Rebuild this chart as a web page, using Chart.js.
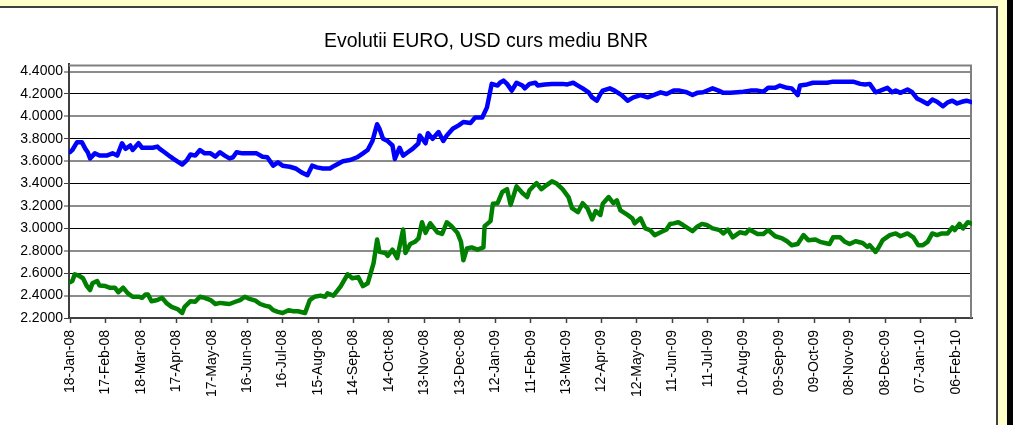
<!DOCTYPE html>
<html>
<head>
<meta charset="utf-8">
<script src="https://cdn.jsdelivr.net/npm/chart.js@4.4.0/dist/chart.umd.min.js"></script>
<style>
  html, body { margin: 0; padding: 0; }
  body { width: 1019px; height: 425px; background: #FFFFCC; position: relative; overflow: hidden; }
  #panel { position: absolute; left: 0; top: 6px; width: 996px; height: 417px; background: #fff;
           border-top: 2px solid #404040; border-right: 2px solid #404040; }
  #edge { position: absolute; left: 1007px; top: 0; width: 6px; height: 425px; background: #000; }
  #strip { position: absolute; left: 1013px; top: 0; width: 6px; height: 425px; background: #fff; }
  canvas { display: block; }
</style>
</head>
<body>
<div id="panel"><canvas id="rates" width="996" height="417"></canvas></div>
<div id="edge"></div>
<div id="strip"></div>
<script>
// x axis = days since 18-Jan-08, one label every 30 days
const TICK_DAYS = 30;
const dateLabels = ['18-Jan-08', '17-Feb-08', '18-Mar-08', '17-Apr-08', '17-May-08', '16-Jun-08',
  '16-Jul-08', '15-Aug-08', '14-Sep-08', '14-Oct-08', '13-Nov-08', '13-Dec-08', '12-Jan-09',
  '11-Feb-09', '13-Mar-09', '12-Apr-09', '12-May-09', '11-Jun-09', '11-Jul-09', '10-Aug-09',
  '09-Sep-09', '09-Oct-09', '08-Nov-09', '08-Dec-09', '07-Jan-10', '06-Feb-10'];
const yTicks = [2.2, 2.4, 2.6, 2.8, 3.0, 3.2, 3.4, 3.6, 3.8, 4.0, 4.2, 4.4];

// EURO (blue)
const eurDays = [0, 2, 6, 10, 13, 15, 17, 21, 25, 31, 36, 40, 44, 47, 51, 53, 58, 61, 66, 70, 74, 76, 80, 85, 87,
  95, 99, 102, 106, 110, 114, 119, 123, 127, 131, 135, 138, 141, 146, 152, 158, 163, 167, 172, 176, 180, 186,
  191, 196, 201, 205, 209, 214, 220, 224, 231, 237, 243, 248, 252, 256, 260, 262, 265, 269, 273, 275, 279, 282,
  286, 290, 295, 296, 301, 303, 307, 312, 316, 319, 324, 329, 333, 339, 343, 349, 353, 357, 362, 364, 367, 370,
  374, 378, 383, 385, 389, 394, 396, 402, 408, 412, 417, 421, 426, 430, 434, 439, 442, 446, 449, 451, 457, 461,
  467, 472, 477, 483, 489, 494, 500, 505, 511, 516, 522, 527, 531, 536, 544, 549, 553, 559, 565, 570, 576, 582,
  587, 591, 597, 601, 607, 611, 616, 618, 624, 629, 635, 641, 646, 652, 658, 663, 669, 673, 677, 682, 686, 692,
  696, 699, 703, 709, 713, 717, 721, 726, 730, 734, 739, 743, 747, 751, 755, 759, 764];
const eurRates = [3.68, 3.70, 3.77, 3.77, 3.71, 3.68, 3.625, 3.67, 3.65, 3.65, 3.67, 3.65, 3.76, 3.71, 3.74, 3.70,
  3.76, 3.72, 3.72, 3.72, 3.73, 3.71, 3.68, 3.64, 3.625, 3.57, 3.61, 3.66, 3.65, 3.70, 3.67, 3.67, 3.64, 3.68,
  3.65, 3.625, 3.635, 3.68, 3.67, 3.67, 3.67, 3.64, 3.635, 3.56, 3.59, 3.56, 3.55, 3.535, 3.50, 3.475, 3.56,
  3.545, 3.535, 3.535, 3.56, 3.60, 3.61, 3.635, 3.67, 3.70, 3.78, 3.93, 3.89, 3.80, 3.78, 3.74, 3.62, 3.72, 3.65,
  3.68, 3.71, 3.76, 3.83, 3.76, 3.85, 3.80, 3.86, 3.78, 3.83, 3.89, 3.92, 3.95, 3.94, 3.99, 3.99, 4.08, 4.29,
  4.275, 4.30, 4.32, 4.29, 4.23, 4.30, 4.275, 4.25, 4.29, 4.30, 4.275, 4.285, 4.29, 4.29, 4.29, 4.285, 4.30,
  4.275, 4.25, 4.215, 4.17, 4.14, 4.20, 4.23, 4.25, 4.23, 4.19, 4.14, 4.17, 4.19, 4.17, 4.19, 4.215, 4.20, 4.23,
  4.23, 4.215, 4.19, 4.21, 4.215, 4.25, 4.23, 4.21, 4.21, 4.215, 4.22, 4.23, 4.23, 4.22, 4.255, 4.255, 4.275,
  4.255, 4.25, 4.19, 4.275, 4.285, 4.30, 4.30, 4.30, 4.31, 4.31, 4.31, 4.31, 4.29, 4.285, 4.29, 4.215, 4.23,
  4.255, 4.215, 4.23, 4.21, 4.24, 4.215, 4.16, 4.14, 4.11, 4.15, 4.13, 4.09, 4.125, 4.14, 4.115, 4.13, 4.14, 4.125];

// USD (green)
const usdDays = [0, 2, 4, 8, 11, 14, 17, 19, 23, 25, 30, 34, 38, 41, 45, 49, 53, 58, 61, 64, 66, 69, 74, 78, 82,
  86, 91, 95, 97, 102, 106, 110, 114, 119, 123, 127, 131, 135, 140, 144, 148, 152, 157, 161, 165, 169, 172, 176,
  180, 185, 189, 193, 199, 203, 207, 212, 216, 218, 223, 229, 235, 239, 244, 248, 252, 257, 260, 262, 267, 269,
  273, 277, 282, 284, 288, 292, 295, 298, 301, 305, 311, 315, 319, 323, 328, 331, 333, 336, 340, 345, 350, 351,
  356, 358, 362, 366, 370, 373, 378, 383, 387, 389, 395, 399, 402, 408, 412, 417, 422, 425, 430, 434, 438, 442,
  445, 449, 451, 456, 460, 463, 466, 472, 476, 478, 483, 487, 491, 495, 500, 505, 508, 511, 515, 519, 527, 531,
  535, 539, 544, 550, 553, 557, 561, 567, 572, 575, 582, 587, 591, 597, 603, 607, 611, 616, 621, 625, 631, 635,
  641, 643, 646, 652, 656, 660, 665, 671, 675, 677, 682, 684, 688, 694, 699, 703, 709, 714, 718, 722, 726, 730,
  734, 738, 743, 747, 749, 753, 756, 760, 764];
const usdRates = [2.52, 2.53, 2.59, 2.575, 2.555, 2.49, 2.45, 2.51, 2.53, 2.49, 2.485, 2.47, 2.47, 2.43, 2.47,
  2.42, 2.39, 2.39, 2.38, 2.41, 2.41, 2.35, 2.36, 2.38, 2.33, 2.30, 2.28, 2.245, 2.30, 2.35, 2.345, 2.39, 2.38,
  2.36, 2.325, 2.335, 2.33, 2.325, 2.345, 2.36, 2.39, 2.37, 2.355, 2.325, 2.31, 2.30, 2.27, 2.255, 2.245, 2.27,
  2.26, 2.26, 2.245, 2.36, 2.39, 2.40, 2.39, 2.42, 2.40, 2.48, 2.59, 2.555, 2.565, 2.485, 2.51, 2.69, 2.90, 2.79,
  2.78, 2.755, 2.81, 2.735, 2.99, 2.78, 2.86, 2.88, 2.91, 3.055, 2.96, 3.045, 2.965, 2.95, 3.055, 3.02, 2.96,
  2.88, 2.715, 2.82, 2.83, 2.81, 2.83, 3.02, 3.065, 3.22, 3.225, 3.325, 3.35, 3.21, 3.375, 3.315, 3.28, 3.34,
  3.405, 3.35, 3.375, 3.42, 3.40, 3.35, 3.28, 3.18, 3.145, 3.225, 3.18, 3.08, 3.155, 3.12, 3.22, 3.28, 3.225,
  3.25, 3.16, 3.12, 3.09, 3.045, 3.09, 3.00, 2.985, 2.94, 2.965, 2.99, 3.04, 3.045, 3.055, 3.03, 2.975, 3.015,
  3.04, 3.03, 3.00, 2.985, 2.955, 2.99, 2.92, 2.965, 2.955, 2.99, 2.95, 2.95, 2.985, 2.93, 2.91, 2.885, 2.85,
  2.86, 2.94, 2.895, 2.90, 2.88, 2.865, 2.86, 2.92, 2.92, 2.88, 2.86, 2.885, 2.87, 2.835, 2.85, 2.79, 2.82,
  2.895, 2.94, 2.955, 2.93, 2.955, 2.92, 2.85, 2.85, 2.88, 2.955, 2.94, 2.955, 2.955, 3.01, 2.985, 3.04, 3.00,
  3.055, 3.04];

Chart.defaults.font.family = '"Liberation Sans", Arial, sans-serif';
Chart.defaults.color = '#000';

// grey frame on top and right of the plot, like the Excel plot area
const plotFrame = {
  id: 'plotFrame',
  beforeDatasetsDraw(chart) {
    const { ctx, chartArea: a } = chart;
    ctx.save();
    ctx.strokeStyle = '#808080';
    ctx.lineWidth = 2;
    ctx.beginPath();
    ctx.moveTo(a.left, a.top + 1);
    ctx.lineTo(a.right - 1, a.top + 1);
    ctx.lineTo(a.right - 1, a.bottom);
    ctx.stroke();
    ctx.restore();
  }
};

const ctx = document.getElementById('rates').getContext('2d');
new Chart(ctx, {
  type: 'line',
  data: {
    datasets: [{
      label: 'EURO',
      data: eurDays.map((d, i) => ({ x: d, y: eurRates[i] })),
      borderColor: '#0000FF',
      borderWidth: 4.5,
      pointRadius: 0,
      tension: 0,
      borderJoinStyle: 'round',
      borderCapStyle: 'round'
    }, {
      label: 'USD',
      data: usdDays.map((d, i) => ({ x: d, y: usdRates[i] })),
      borderColor: '#008000',
      borderWidth: 4.5,
      pointRadius: 0,
      tension: 0,
      borderJoinStyle: 'round',
      borderCapStyle: 'round'
    }]
  },
  options: {
    responsive: false,
    animation: false,
    layout: { padding: { left: 0, right: 24, top: 0, bottom: 0 } },
    plugins: {
      legend: { display: false },
      tooltip: { enabled: false },
      title: {
        display: true,
        text: 'Evolutii EURO, USD curs mediu BNR',
        color: '#000',
        font: { size: 19.5, weight: 'normal' },
        padding: { top: 22, bottom: 11 }
      }
    },
    scales: {
      x: {
        type: 'linear',
        min: -0.85,
        max: 763.6,
        afterBuildTicks: s => { s.ticks = dateLabels.map((_, i) => ({ value: i * TICK_DAYS })); },
        afterFit: s => { s.height = 107; },
        grid: { drawOnChartArea: false, drawTicks: true, tickLength: 5, tickColor: '#404040', tickWidth: 1.5 },
        border: { color: '#404040', width: 2 },
        ticks: {
          autoSkip: false, minRotation: 90, maxRotation: 90, padding: 7,
          font: { size: 14 }, color: '#000',
          callback: (v, i) => dateLabels[i]
        }
      },
      y: {
        min: 2.2,
        max: 4.464,
        afterBuildTicks: s => { s.ticks = yTicks.map(v => ({ value: v })); },
        afterFit: s => { s.width = 69; },
        grid: {
          color: c => (c.index % 2 === 0 ? '#000' : '#8c8c8c'),
          lineWidth: c => (c.index % 2 === 0 ? 1 : 2),
          tickLength: 5, tickColor: '#404040', tickWidth: 1
        },
        border: { color: '#404040', width: 2 },
        ticks: { padding: 1, font: { size: 14 }, color: '#000', callback: v => v.toFixed(4) }
      }
    }
  },
  plugins: [plotFrame]
});
</script>
</body>
</html>
